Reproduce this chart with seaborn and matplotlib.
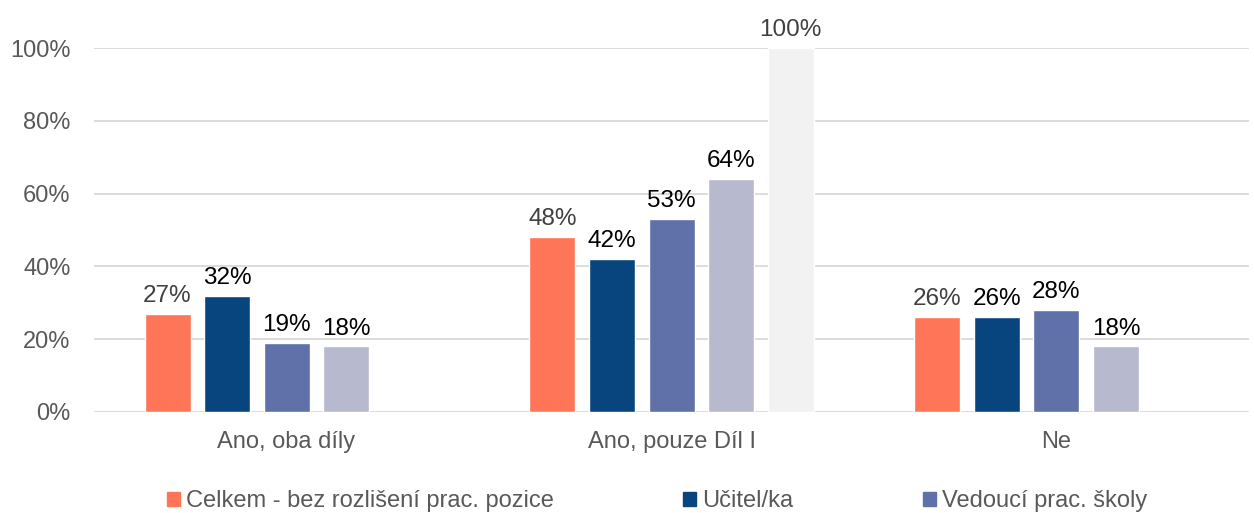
import pandas as pd
import matplotlib.pyplot as plt
import seaborn as sns
import numpy as np

categories = ['Ano, oba díly', 'Ano, pouze Díl I', 'Ne']
series = ['Celkem - bez rozlišení prac. pozice', 'Učitel/ka', 'Vedoucí prac. školy',
          'Ostatní', 'Celkem']
celkem = [27, 48, 26]
ucitel = [32, 42, 26]
vedouci = [19, 53, 28]
ostatni = [18, 64, 18]
souhrn = [np.nan, 100, np.nan]
colors = ['#FF7557', '#08457E', '#6070A8', '#B7B9CE', '#F2F2F2']
label_colors = ['#404040', '#000000', '#000000', '#000000', '#404040']

sns.set_theme(style='white')
plt.rcParams['font.family'] = ['Liberation Sans', 'DejaVu Sans']

rows = []
for name, vals in zip(series, [celkem, ucitel, vedouci, ostatni, souhrn]):
    for cat, v in zip(categories, vals):
        rows.append({'Kategorie': cat, 'Skupina': name, 'Podíl': v})
df = pd.DataFrame(rows)

fig = plt.figure(figsize=(12.54, 5.13), dpi=100)
ax = fig.add_axes([0.075, 0.197, 0.921, 0.709])
sns.barplot(data=df, x='Kategorie', y='Podíl', hue='Skupina', palette=colors,
            width=0.773, gap=0.227, ax=ax, legend=False, saturation=1)

for cont, lc in zip(ax.containers, label_colors):
    labels = ['' if np.isnan(b.get_height()) else f'{b.get_height():.0f}%' for b in cont]
    ax.bar_label(cont, labels=labels, padding=5, fontsize=17.5, color=lc, clip_on=False)

ax.set_ylim(0, 100)
ax.set_xlim(-0.5, 2.5)
ax.set_yticks(range(0, 101, 20))
ax.set_yticklabels([f'{v}%' for v in range(0, 101, 20)])
ax.yaxis.grid(True, color='#D9D9D9', linewidth=1.3)
ax.set_axisbelow(True)
for s in ax.spines.values():
    s.set_visible(False)
ax.tick_params(axis='both', labelsize=17, colors='#595959', length=0)
ax.tick_params(axis='x', pad=14)
ax.tick_params(axis='y', pad=17)
ax.set_xlabel('')
ax.set_ylabel('')

handles = [plt.Rectangle((0, 0), 1, 1, color=c) for c in colors[:3]]
fig.legend(handles, series[:3], loc='lower center', bbox_to_anchor=(0.524, -0.04), ncol=3,
           frameon=False, fontsize=17, handlelength=0.55, handleheight=0.55,
           handletextpad=0.25, columnspacing=5.5, labelcolor='#595959')

fig.savefig('out.png', dpi=100)
